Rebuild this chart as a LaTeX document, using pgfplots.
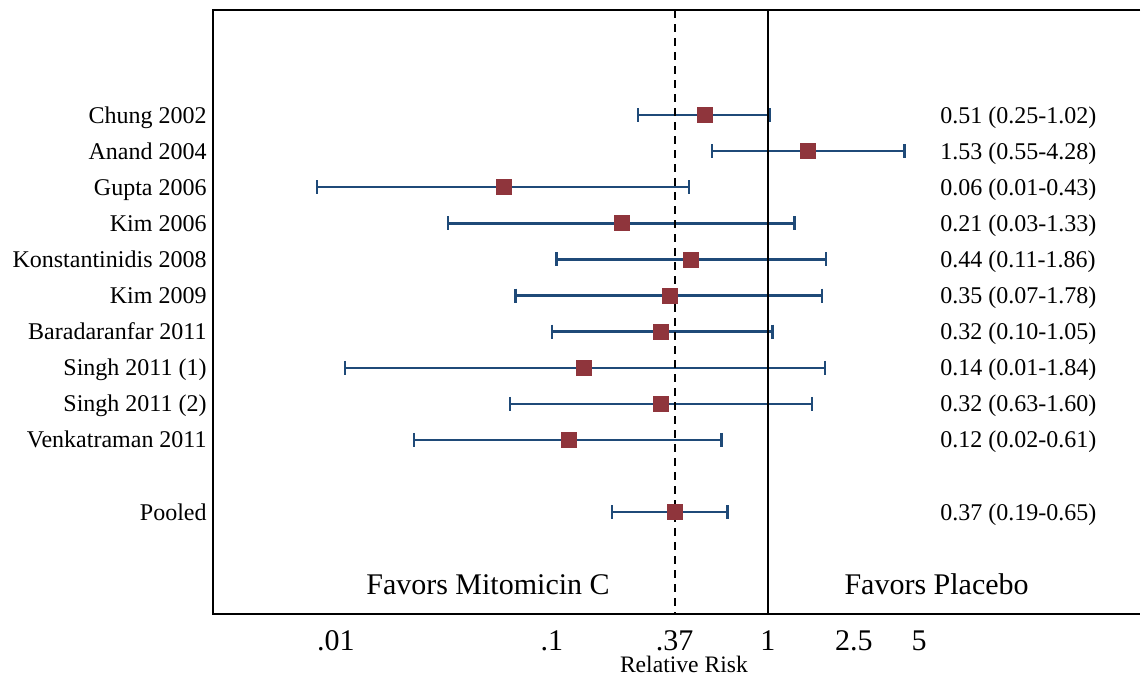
\documentclass[border=0pt]{standalone}
\usepackage{fontspec}
\setmainfont{Liberation Serif}
\usepackage{pgfplots}
\usepackage{pgfplotstable}
\pgfplotsset{compat=1.18}
\definecolor{ciBlue}{HTML}{1F4A78}
\definecolor{ptRed}{HTML}{8F353C}

% point estimates (row, RR)
\pgfplotstableread{
y est
1 0.51
2 1.53
3 0.06
4 0.21
5 0.44
6 0.35
7 0.32
8 0.14
9 0.32
10 0.12
12 0.37
}\esttable

% confidence interval end points, nan breaks the line
\pgfplotstableread{
x y
0.25 1
1.02 1
nan nan
0.55 2
4.28 2
nan nan
0.0082 3
0.43 3
nan nan
0.033 4
1.33 4
nan nan
0.105 5
1.86 5
nan nan
0.068 6
1.78 6
nan nan
0.10 7
1.05 7
nan nan
0.011 8
1.84 8
nan nan
0.064 9
1.60 9
nan nan
0.023 10
0.61 10
nan nan
0.19 12
0.65 12
}\citable

\begin{document}
\begin{tikzpicture}
\useasboundingbox (-106.5pt,-33pt) rectangle (464pt,307pt);
\begin{axis}[
  at={(0,0)}, anchor=south west,
  scale only axis, width=463.5pt, height=302pt,
  xmode=log, xmin=0.0027, xmax=52.7,
  ymin=-1.908, ymax=14.82, y dir=reverse,
  axis line style={draw=none},
  major tick length=0pt,
  clip=false,
  unbounded coords=jump,
  xtick={0.01,0.1,0.37,1,2.5,5},
  xticklabels={.01,.1,.37,1,2.5,5},
  xticklabel style={font=\fontsize{15}{18}\selectfont, anchor=base, yshift=-18pt},
  ytick={1,2,3,4,5,6,7,8,9,10,12},
  yticklabels={Chung 2002,Anand 2004,Gupta 2006,Kim 2006,Konstantinidis 2008,Kim 2009,Baradaranfar 2011,Singh 2011 (1),Singh 2011 (2),Venkatraman 2011,Pooled},
  yticklabel style={font=\fontsize{12}{14}\selectfont, anchor=base east, inner sep=0pt, xshift=-3pt, yshift=-4pt},
  xlabel={Relative Risk},
  xlabel style={at={(axis description cs:0.508,0)}, anchor=base, yshift=-29pt, font=\fontsize{11.8}{14}\selectfont},
]
\addplot[ciBlue, line width=1.25pt, mark=|, mark size=3.5pt] table[x=x, y=y] {\citable};
\addplot[black, line width=1pt, dash pattern=on 4pt off 3pt] coordinates {(0.37,-1.908) (0.37,14.82)};
\addplot[black, line width=1pt] coordinates {(1,-1.908) (1,14.82)};
\addplot[only marks, mark=square*, mark size=3.75pt, draw=ptRed, fill=ptRed] table[x=est, y=y] {\esttable};

\begin{scope}[every node/.style={anchor=base west, inner sep=0pt, yshift=-4pt, font=\fontsize{12}{14}\selectfont}]
\node at (axis cs:6.26,1) {0.51 (0.25-1.02)};
\node at (axis cs:6.26,2) {1.53 (0.55-4.28)};
\node at (axis cs:6.26,3) {0.06 (0.01-0.43)};
\node at (axis cs:6.26,4) {0.21 (0.03-1.33)};
\node at (axis cs:6.26,5) {0.44 (0.11-1.86)};
\node at (axis cs:6.26,6) {0.35 (0.07-1.78)};
\node at (axis cs:6.26,7) {0.32 (0.10-1.05)};
\node at (axis cs:6.26,8) {0.14 (0.01-1.84)};
\node at (axis cs:6.26,9) {0.32 (0.63-1.60)};
\node at (axis cs:6.26,10) {0.12 (0.02-0.61)};
\node at (axis cs:6.26,12) {0.37 (0.19-0.65)};
\end{scope}
\node[anchor=base, font=\fontsize{15}{18}\selectfont] at (axis cs:0.0506,14.29) {Favors Mitomicin C};
\node[anchor=base, font=\fontsize{15}{18}\selectfont] at (axis cs:6.03,14.29) {Favors Placebo};
\end{axis}
\draw[line width=1pt] (current axis.north east) -- (current axis.north west) -- (current axis.south west) -- (current axis.south east);
\end{tikzpicture}
\end{document}
